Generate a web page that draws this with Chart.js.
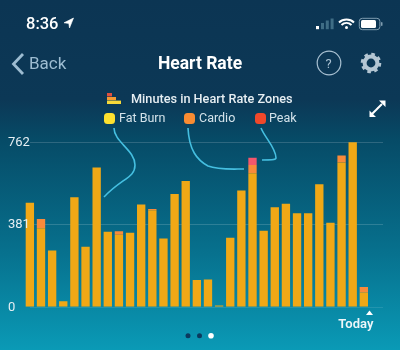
<!DOCTYPE html>
<html><head><meta charset="utf-8">
<script src="https://cdn.jsdelivr.net/npm/chart.js@4"></script>
<style>
html,body{margin:0;padding:0;background:#fff}
#app{position:relative;width:400px;height:350px;overflow:hidden;background:linear-gradient(180deg,#0c3553 0,#0c3856 100px,#064b67 140px,#07708d 250px,#0a9ab6 350px);font-family:Roboto,Inter,sans-serif}
#app div.t{position:absolute;white-space:nowrap;line-height:1}
#app svg{position:absolute;left:0;top:0}
canvas{position:absolute;left:0;top:0}
.sw{position:absolute;width:10.5px;height:10.5px;border-radius:3.5px}
</style></head><body>
<div id="app">
<canvas id="c" width="400" height="350"></canvas>
<svg width="400" height="350" viewBox="0 0 400 350" fill="none">
 <path d="M114 128C114 142 135 150 135 165C135 178 122 178 104 197" stroke="#45bfe0" stroke-width="1.6"/>
 <path d="M188 128C189 150 197 160 208 166C218 170 232 169 244 169" stroke="#45bfe0" stroke-width="1.6"/>
 <path d="M261 128C265 138 276 148 276 158C276 160 270 160 262 160" stroke="#45bfe0" stroke-width="1.6"/>
 <rect x="107" y="93" width="5" height="3.4" fill="#e0503f"/><rect x="107" y="97" width="9" height="3.2" fill="#f59a32"/><rect x="107" y="100.6" width="14" height="3.4" fill="#f6d93a"/>
 <path d="M73.500 18L64 22.800L68.800 23.400L69.500 28Z" fill="#fff" stroke="#fff" stroke-width=".6" stroke-linejoin="round"/>
 <rect x="316" y="26" width="3" height="3.2" fill="#fff"/><rect x="321" y="23" width="3" height="6.2" fill="#3f6d85"/><rect x="325.8" y="20.5" width="3" height="8.7" fill="#3f6d85"/><rect x="330.6" y="18.5" width="3" height="10.7" fill="#3f6d85"/>
 <path d="M339 22.4C343 18.6 350 18.6 354 22.4M341.5 25C344.5 22.4 348.5 22.4 351.5 25" stroke="#fff" stroke-width="2"/><circle cx="346.5" cy="27.6" r="1.5" fill="#fff"/>
 <rect x="359.3" y="18.3" width="20.6" height="11.4" rx="3" stroke="#7f9db0"/><rect x="361" y="20" width="15" height="8" rx="1.5" fill="#fff"/><rect x="381" y="22" width="1.5" height="4" rx=".7" fill="#7f9db0"/>
 <path d="M23 54L13.5 64L23 74" stroke="#9dbcd1" stroke-width="2.8"/>
 <circle cx="329" cy="63" r="11.8" stroke="#a9c1d2" stroke-width="1.2"/>
 <circle cx="371" cy="63" r="6.4" stroke="#b4c6d3" stroke-width="4"/>
 <circle cx="371" cy="63" r="9" stroke="#b4c6d3" stroke-width="2.6" stroke-dasharray="3.6 3.47"/>
 <path d="M376 110L382 104M372 114L378 108" stroke="#fff" stroke-width="2"/>
 <path d="M379 100.500H385.500V107ZM369.500 110.500V117H376Z" fill="#fff"/>
 <path d="M369.500 310.500L373 315H366Z" fill="#fff"/>
 <circle cx="188" cy="335.700" r="2.500" fill="#0b3a5e"/><circle cx="199.500" cy="335.700" r="2.500" fill="#0b3a5e"/><circle cx="211" cy="335.700" r="2.800" fill="#fff"/>
</svg>
<div class="t" style="left:26px;top:16px;font-size:16.500px;font-weight:500;color:#fff">8:36</div>
<div class="t" style="left:29px;top:55px;font-size:17px;color:#9dbcd1">Back</div>
<div class="t" style="left:0;width:400px;text-align:center;top:55px;font-size:17.500px;font-weight:700;color:#fff">Heart Rate</div>
<div class="t" style="left:329px;width:0;top:57px;font-size:13px;color:#a9c1d2"><span style="position:absolute;left:-3.500px">?</span></div>
<div class="t" style="left:131px;top:93px;font-size:12.700px;font-weight:500;color:#e6eef2">Minutes in Heart Rate Zones</div>
<span class="sw" style="left:104px;top:113px;background:#fde12f"></span>
<div class="t" style="left:119px;top:112px;font-size:12.500px;color:#d3e2ea">Fat Burn</div>
<span class="sw" style="left:184px;top:113px;background:#f98c32"></span>
<div class="t" style="left:199px;top:112px;font-size:12.500px;color:#d3e2ea">Cardio</div>
<span class="sw" style="left:255px;top:113px;background:#f0482a"></span>
<div class="t" style="left:269px;top:112px;font-size:12.500px;color:#d3e2ea">Peak</div>
</div>
<script>
const days = Array.from({length:31},(_, i)=> i===30 ? "Today" : "");
const fatBurn = [480,362,260,25,506,277,643,346,332,342,472,445,315,520,580,123,126,6,319,537,616,351,459,476,431,431,566,388,666,760,66];
const cardio  = [0,43,0,0,0,0,0,0,16,0,0,6,0,0,0,0,0,0,0,0,38,0,0,0,0,0,0,0,32,0,25];
const peak    = [0,0,0,0,0,0,0,0,0,0,0,0,0,0,0,0,0,0,0,0,34,0,0,0,0,0,0,0,0,0,0];
const yTicks  = [0,381,762];
const gridExt = {id:'gridExt',beforeDatasetsDraw(ch){
  const y=ch.scales.y,c=ch.ctx;c.save();c.lineWidth=1;
  yTicks.forEach(v=>{const p=Math.round(y.getPixelForValue(v))+.5;
    c.strokeStyle=v===0?'rgba(255,255,255,.10)':'rgba(255,255,255,.16)';
    c.beginPath();c.moveTo(30,p);c.lineTo(383,p);c.stroke();});
  c.restore();}};
Chart.defaults.font.family='Roboto,Inter,sans-serif';
new Chart(document.getElementById('c'),{
 type:'bar',
 data:{labels:days,datasets:[
  {label:'Fat Burn',data:fatBurn,backgroundColor:'#f0a816'},
  {label:'Cardio',data:cardio,backgroundColor:'#f98a3a'},
  {label:'Peak',data:peak,backgroundColor:'#f4566c'}]},
 options:{responsive:false,animation:false,
  layout:{padding:{top:141.7,right:30.6,left:0,bottom:0}},
  plugins:{legend:{display:false},tooltip:{enabled:false}},
  datasets:{bar:{barPercentage:.75,categoryPercentage:1}},
  scales:{
   x:{stacked:true,grid:{display:false},border:{display:false},
      afterFit(s){s.height=43.3},
      ticks:{autoSkip:false,maxRotation:0,minRotation:0,padding:2,labelOffset:-8,color:'#eef6f9',font:{size:13,weight:'600'}}},
   y:{stacked:true,min:0,max:762,grid:{display:false},border:{display:false},
      afterFit(s){s.width=24.3},
      afterBuildTicks(s){s.ticks=yTicks.map(v=>({value:v}))},
      ticks:{mirror:true,z:1,padding:-16.3,labelOffset:1,color:'#e6eff3',font:{size:13}}}
  }},
 plugins:[gridExt]});
</script>
</body></html>
